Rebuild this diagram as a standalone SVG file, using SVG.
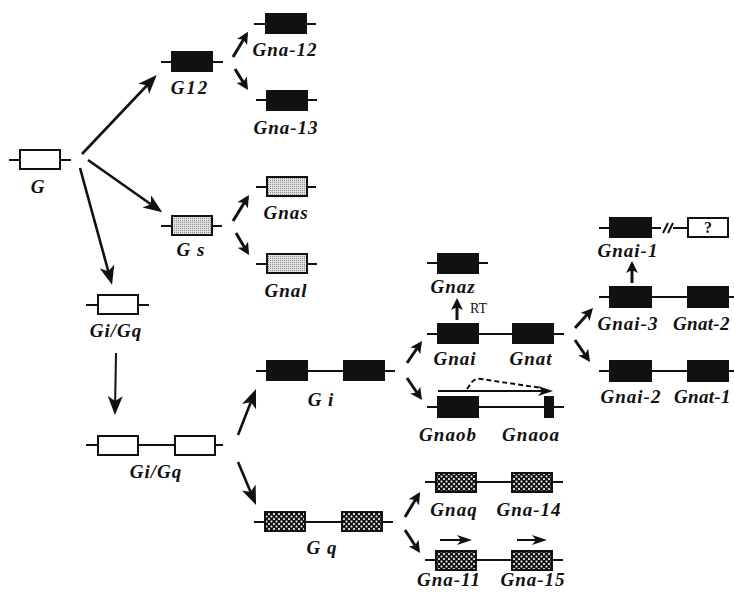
<svg xmlns="http://www.w3.org/2000/svg" width="734" height="592" viewBox="0 0 734 592">
<defs>
<style>
.ln{stroke:#111;stroke-width:2;fill:none}
.bx{stroke:#111;stroke-width:2}
.w{fill:#fff}
.k{fill:#111}
.lt{fill:url(#light)}
.dk{fill:url(#dense)}
.lab{font-family:"Liberation Serif","Times New Roman",serif;font-weight:bold;font-style:italic;font-size:19px;letter-spacing:1px;fill:#111;text-anchor:middle}
.rt{font-family:"Liberation Serif","Times New Roman",serif;font-size:14px;fill:#111}
.q{font-family:"Liberation Serif","Times New Roman",serif;font-weight:bold;font-size:16px;fill:#111;text-anchor:middle}
.big{stroke:#111;stroke-width:2.6;fill:none;marker-end:url(#hb)}
.sm{stroke:#111;stroke-width:3;fill:none;marker-end:url(#hs)}
.thin{stroke:#111;stroke-width:2;fill:none;marker-end:url(#ht)}
.dash{stroke:#111;stroke-width:2;fill:none;stroke-dasharray:5 3}
</style>
<pattern id="light" width="2" height="2" patternUnits="userSpaceOnUse">
<rect width="2" height="2" fill="#e2e2e2"/>
<rect width="1" height="1" fill="#8a8a8a"/>
</pattern>
<pattern id="dense" width="5" height="5" patternUnits="userSpaceOnUse">
<rect width="5" height="5" fill="#111"/>
<rect x="0.6" y="0.6" width="1.8" height="1.8" fill="#fff"/>
<rect x="3.1" y="3.1" width="1.8" height="1.8" fill="#fff"/>
</pattern>
<marker id="hb" markerUnits="userSpaceOnUse" markerWidth="19" markerHeight="15" viewBox="0 0 19 15" refX="15" refY="7.5" orient="auto">
<path d="M0,0 L19,7.5 L0,15 L5,7.5 z" fill="#111"/>
</marker>
<marker id="hs" markerUnits="userSpaceOnUse" markerWidth="12" markerHeight="12" viewBox="0 0 12 12" refX="9" refY="6" orient="auto">
<path d="M0,0 L12,6 L0,12 L3,6 z" fill="#111"/>
</marker>
<marker id="ht" markerUnits="userSpaceOnUse" markerWidth="15" markerHeight="10" viewBox="0 0 15 10" refX="12" refY="5" orient="auto">
<path d="M0,0 L15,5 L0,10 L4,5 z" fill="#111"/>
</marker>
</defs>

<g id="connectors">
<line class="big" x1="82" y1="154" x2="154" y2="78"/>
<line class="big" x1="88" y1="160" x2="159" y2="210"/>
<line class="big" x1="80" y1="168" x2="111" y2="281"/>
<line class="sm" x1="233" y1="57" x2="246.5" y2="34.4"/>
<line class="sm" x1="235" y1="69" x2="246.4" y2="87.4"/>
<line class="sm" x1="233" y1="221" x2="247.4" y2="197.6"/>
<line class="sm" x1="236" y1="233" x2="247.5" y2="252.4"/>
<line class="big" style="stroke-width:2" x1="116" y1="353" x2="115" y2="411"/>
<line class="big" x1="238" y1="435" x2="254.5" y2="392.7"/>
<line class="big" x1="238" y1="462" x2="254.5" y2="501.3"/>
<line class="sm" x1="407" y1="363" x2="420.3" y2="343.5"/>
<line class="sm" x1="407" y1="378" x2="420.3" y2="397.5"/>
<line class="sm" x1="457" y1="320" x2="457" y2="301"/>
<line class="sm" x1="575" y1="328" x2="591" y2="310.2"/>
<line class="sm" x1="575" y1="340" x2="588.3" y2="359.5"/>
<line class="sm" x1="632" y1="283" x2="632" y2="264"/>
<line class="sm" x1="405" y1="517" x2="418.5" y2="494.6"/>
<line class="sm" x1="405" y1="530" x2="418.4" y2="550.5"/>
<line class="thin" x1="438" y1="391" x2="550" y2="391"/>
<path class="dash" d="M467,389 L472,382 Q475,378 481,379 L542,388"/>
<line class="thin" x1="440" y1="540" x2="469" y2="540"/>
<line class="thin" x1="517" y1="540" x2="544" y2="540"/>
</g>

<g id="G">
<line class="ln" x1="9" y1="160" x2="71" y2="160"/>
<rect class="bx w" x="20" y="150" width="40" height="19"/>
<text class="lab" x="38" y="193">G</text>
</g>
<g id="G12">
<line class="ln" x1="161" y1="62" x2="223" y2="62"/>
<rect class="bx k" x="172" y="52" width="40" height="19"/>
<text class="lab" x="190" y="94" style="letter-spacing:2px">G12</text>
</g>
<g id="Gna-12">
<line class="ln" x1="254" y1="24" x2="316" y2="24"/>
<rect class="bx k" x="266" y="14" width="40" height="19"/>
<text class="lab" x="285" y="56">Gna-12</text>
</g>
<g id="Gna-13">
<line class="ln" x1="256" y1="100" x2="317" y2="100"/>
<rect class="bx k" x="267" y="91" width="40" height="19"/>
<text class="lab" x="286" y="134">Gna-13</text>
</g>
<g id="Gs">
<line class="ln" x1="161" y1="226" x2="222" y2="226"/>
<rect class="bx lt" x="172" y="216" width="40" height="19"/>
<text class="lab" x="191" y="256">G s</text>
</g>
<g id="Gnas">
<line class="ln" x1="256" y1="187" x2="316" y2="187"/>
<rect class="bx lt" x="267" y="177" width="40" height="19"/>
<text class="lab" x="286" y="219">Gnas</text>
</g>
<g id="Gnal">
<line class="ln" x1="256" y1="264" x2="317" y2="264"/>
<rect class="bx lt" x="267" y="254" width="40" height="19"/>
<text class="lab" x="286" y="297">Gnal</text>
</g>
<g id="GiGq1">
<line class="ln" x1="86" y1="305" x2="149" y2="305"/>
<rect class="bx w" x="98" y="295" width="40" height="19"/>
<text class="lab" x="116" y="337">Gi/Gq</text>
</g>
<g id="GiGq2">
<line class="ln" x1="86" y1="445" x2="223" y2="445"/>
<rect class="bx w" x="98" y="436" width="40" height="19"/>
<rect class="bx w" x="175" y="436" width="40" height="19"/>
<text class="lab" x="156" y="478">Gi/Gq</text>
</g>
<g id="Gi">
<line class="ln" x1="256" y1="371" x2="395" y2="371"/>
<rect class="bx k" x="267" y="361" width="40" height="19"/>
<rect class="bx k" x="344" y="361" width="40" height="19"/>
<text class="lab" x="321" y="406">G i</text>
</g>
<g id="Gq">
<line class="ln" x1="254" y1="522" x2="393" y2="522"/>
<rect class="bx dk" x="265" y="512" width="40" height="19"/>
<rect class="bx dk" x="342" y="512" width="40" height="19"/>
<text class="lab" x="322" y="554">G q</text>
</g>
<g id="Gnaz">
<line class="ln" x1="427" y1="263" x2="488" y2="263"/>
<rect class="bx k" x="438" y="254" width="40" height="19"/>
<text class="lab" x="453" y="293">Gnaz</text>
<text class="rt" x="470" y="313">RT</text>
</g>
<g id="Gnai-Gnat">
<line class="ln" x1="427" y1="334" x2="564" y2="334"/>
<rect class="bx k" x="438" y="324" width="40" height="19"/>
<rect class="bx k" x="513" y="324" width="40" height="19"/>
<text class="lab" x="455" y="365">Gnai</text>
<text class="lab" x="531" y="365">Gnat</text>
</g>
<g id="Gnaob-Gnaoa">
<line class="ln" x1="427" y1="407" x2="564" y2="407"/>
<rect class="bx k" x="438" y="397" width="40" height="20"/>
<rect class="bx k" x="545" y="397" width="8" height="20"/>
<text class="lab" x="448" y="441">Gnaob</text>
<text class="lab" x="531" y="441">Gnaoa</text>
</g>
<g id="Gnaq-Gna-14">
<line class="ln" x1="425" y1="482" x2="563" y2="482"/>
<rect class="bx dk" x="436" y="473" width="40" height="19"/>
<rect class="bx dk" x="512" y="473" width="40" height="19"/>
<text class="lab" x="454" y="516">Gnaq</text>
<text class="lab" x="529" y="516">Gna-14</text>
</g>
<g id="Gna-11-Gna-15">
<line class="ln" x1="425" y1="560" x2="563" y2="560"/>
<rect class="bx dk" x="436" y="551" width="40" height="19"/>
<rect class="bx dk" x="512" y="551" width="40" height="19"/>
<text class="lab" x="449" y="586">Gna-11</text>
<text class="lab" x="533" y="586">Gna-15</text>
</g>
<g id="Gnai-1">
<line class="ln" x1="599" y1="228" x2="661" y2="228"/>
<line class="ln" x1="663" y1="233" x2="668" y2="223"/>
<line class="ln" x1="668" y1="233" x2="673" y2="223"/>
<line class="ln" x1="673" y1="228" x2="688" y2="228"/>
<rect class="bx k" x="610" y="218" width="41" height="19"/>
<rect class="bx w" x="688" y="218" width="40" height="19"/>
<text class="q" x="708" y="233">?</text>
<text class="lab" x="628" y="257">Gnai-1</text>
</g>
<g id="Gnai-3-Gnat-2">
<line class="ln" x1="599" y1="297" x2="734" y2="297"/>
<rect class="bx k" x="610" y="287" width="41" height="20"/>
<rect class="bx k" x="688" y="287" width="40" height="20"/>
<text class="lab" x="628" y="330">Gnai-3</text>
<text class="lab" x="673" y="330" style="text-anchor:start;letter-spacing:0.3px">Gnat-2</text>
</g>
<g id="Gnai-2-Gnat-1">
<line class="ln" x1="599" y1="371" x2="734" y2="371"/>
<rect class="bx k" x="610" y="361" width="41" height="20"/>
<rect class="bx k" x="688" y="361" width="40" height="20"/>
<text class="lab" x="631" y="403">Gnai-2</text>
<text class="lab" x="674" y="403" style="text-anchor:start;letter-spacing:0.3px">Gnat-1</text>
</g>
</svg>
